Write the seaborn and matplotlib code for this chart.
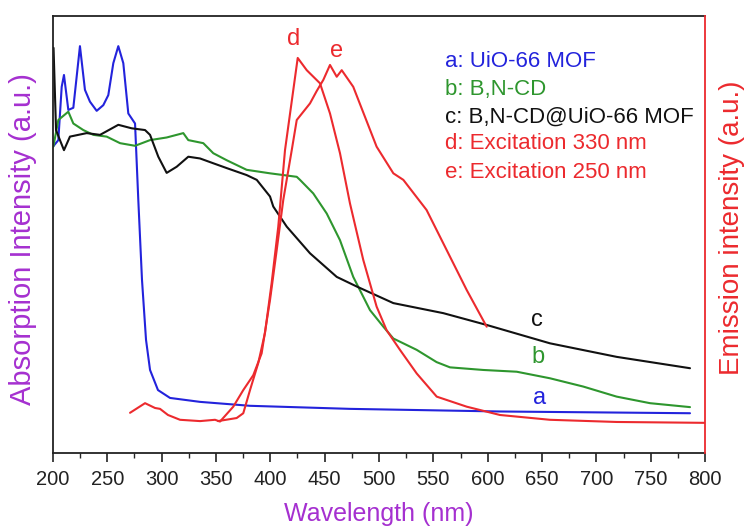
import numpy as np
import pandas as pd
import matplotlib
matplotlib.use("Agg")
import matplotlib.pyplot as plt
import seaborn as sns
from matplotlib.ticker import MultipleLocator, NullLocator

# ---------------- data ----------------
a_nm = [200, 204.9, 208, 210.1, 214.1, 218.7, 224.8, 229.4, 234.0, 240.2, 246.3, 250.9,
        255.5, 260.1, 264.7, 269.3, 275.5, 278.5, 281.9, 285.6, 289.3, 296.6, 307.7,
        335.3, 381.3, 473.3, 611.3, 786.2]
a_val = [70.1, 71.6, 83.8, 86.5, 78.5, 79.0, 93.1, 83.1, 80.4, 78.3, 79.6, 81.9,
         89.2, 93.1, 89.2, 77.7, 75.4, 57.9, 39.6, 25.9, 19.0, 14.4, 12.6,
         11.7, 10.8, 10.1, 9.5, 9.1]

b_nm = [200.3, 204.9, 214.1, 218.7, 227.9, 237.1, 249.4, 261.7, 275.5, 289.3, 304.6,
        319.9, 324.5, 338.3, 347.5, 359.8, 378.2, 399.7, 424.3, 427.3, 439.5, 451.9,
        464.1, 476.3, 491.7, 504.0, 513.2, 534.7, 553.0, 565.3, 596.0, 626.7, 657.3, 688.0,
        718.7, 749.4, 786.2]
b_val = [70.1, 76.2, 78.1, 75.4, 73.9, 72.8, 72.4, 70.9, 70.3, 71.6, 72.2,
         73.2, 71.6, 70.9, 68.6, 67.0, 64.8, 64.0, 63.2, 62.5, 59.4, 54.8,
         48.7, 40.3, 32.7, 28.9, 26.2, 23.6, 20.8, 19.6, 19.0, 18.6, 17.1, 15.2,
         12.9, 11.4, 10.5]

c_nm = [200.5, 202.8, 206.4, 210.1, 215.6, 231.0, 243.3, 260.1, 272.4, 284.7, 289.3,
        296.9, 304.6, 313.8, 324.5, 335.3, 347.5, 359.8, 378.2, 387.5, 399.7, 402.7,
        415.1, 436.5, 461.1, 479.5, 513.2, 559.2, 599.1, 657.3, 718.7, 786.2]
c_val = [92.7, 73.9, 71.6, 69.3, 72.4, 73.2, 72.8, 75.1, 74.3, 73.9, 72.8,
         67.8, 64.1, 65.5, 67.8, 67.4, 66.3, 65.2, 63.6, 62.5, 58.7, 56.4,
         51.8, 45.7, 40.3, 38.1, 34.3, 32.0, 29.3, 25.1, 22.0, 19.4]

d_nm = [351.8, 369.0, 375.1, 381.3, 388.9, 395.1, 401.2, 407.3, 413.5, 425.2, 433.5,
        445.7, 454.9, 464.1, 473.3, 485.5, 497.8, 507.0, 519.3, 534.7, 553.1, 580.7,
        611.3, 657.3, 718.7, 800.0]
d_val = [7.3, 8.0, 9.1, 14.4, 20.6, 27.5, 38.9, 51.8, 69.3, 90.4, 87.6,
         84.6, 77.7, 68.6, 57.1, 44.2, 33.5, 28.1, 23.6, 18.2, 12.9, 10.6,
         8.7, 7.6, 7.1, 6.9]

e_nm = [270.9, 284.7, 293.9, 298.5, 305.8, 316.9, 335.3, 349.1, 353.7, 365.9, 375.1,
        384.3, 392.0, 399.7, 405.9, 411.9, 419.7, 424.3, 436.5, 442.6, 448.8, 454.9,
        461.1, 465.7, 476.3, 497.8, 513.2, 522.4, 543.8, 556.1, 568.4, 580.7, 599.1]
e_val = [9.2, 11.4, 10.3, 10.1, 8.7, 7.6, 7.3, 7.6, 7.2, 10.6, 14.4,
         17.8, 22.8, 35.0, 46.5, 57.9, 69.3, 76.2, 80.0, 82.8, 85.4, 88.8,
         86.1, 87.6, 83.8, 70.1, 64.0, 62.5, 55.6, 49.5, 43.4, 37.3, 28.9]

legend_lines = ["a: UiO-66 MOF", "b: B,N-CD", "c: B,N-CD@UiO-66 MOF",
                "d: Excitation 330 nm", "e: Excitation 250 nm"]
x_ticks = list(range(200, 801, 50))

BLUE = "#2323dc"
GREEN = "#2e962e"
BLACK = "#111111"
RED = "#ec2a2e"
PURPLE = "#a530d0"

# ---------------- style ----------------
sns.set_style("white")
plt.rcParams["font.family"] = ["Liberation Sans", "DejaVu Sans"]

fig = plt.figure(figsize=(7.49, 5.29), dpi=100)
ax = fig.add_axes([53/749, 1 - 453/529, (705-53)/749, (453-16)/529])
ax2 = ax.twinx()

lw = 1.5
def draw(axis, xs, ys, color):
    df = pd.DataFrame({"x": xs, "y": ys})
    sns.lineplot(data=df, x="x", y="y", ax=axis, color=color, lw=lw,
                 sort=False, estimator=None, legend=False)

draw(ax, a_nm, a_val, BLUE)
draw(ax, b_nm, b_val, GREEN)
draw(ax, c_nm, c_val, BLACK)
draw(ax2, d_nm, d_val, RED)
draw(ax2, e_nm, e_val, RED)

for axis in (ax, ax2):
    axis.set_xlim(200, 800)
    axis.set_ylim(0, 100)
    axis.yaxis.set_major_locator(NullLocator())
    axis.set_xlabel("")

ax.set_xticks(x_ticks)
ax.xaxis.set_minor_locator(MultipleLocator(25))
ax.tick_params(axis="x", which="major", direction="out", length=6.5, width=1.2,
               labelsize=14.5, colors="#222222", pad=6, bottom=True)
ax.tick_params(axis="x", which="minor", direction="out", length=3.5, width=1.0,
               bottom=True)

for s in ("left", "top", "bottom"):
    ax.spines[s].set_color("#222222")
    ax.spines[s].set_linewidth(1.3)
ax.spines["right"].set_visible(False)
for s in ("left", "top", "bottom"):
    ax2.spines[s].set_visible(False)
ax2.spines["right"].set_color(RED)
ax2.spines["right"].set_linewidth(1.3)

ax.set_xlabel("Wavelength (nm)", fontsize=18, color=PURPLE)
ax.xaxis.set_label_coords(0.5, -0.112)
ax.set_ylabel("Absorption Intensity (a.u.)", fontsize=21, color=PURPLE)
ax.yaxis.set_label_coords(-0.025, 0.49)
ax2.set_ylabel("Emission intensity (a.u.)", fontsize=20, color=RED)
ax2.yaxis.set_label_coords(1.022, 0.515)

# curve labels
ax.text(648, 12.5, "a", color=BLUE, fontsize=17, ha="center", va="center")
ax.text(646.5, 21.9, "b", color=GREEN, fontsize=17, ha="center", va="center")
ax.text(645, 30.4, "c", color=BLACK, fontsize=17, ha="center", va="center")
ax.text(421, 94.7, "d", color=RED, fontsize=17, ha="center", va="center")
ax.text(460.5, 92.1, "e", color=RED, fontsize=17, ha="center", va="center")

# legend-like text block
colors = [BLUE, GREEN, BLACK, RED, RED]
ys = [0.895, 0.831, 0.769, 0.709, 0.643]
for t, c, yy in zip(legend_lines, colors, ys):
    ax.text(0.601, yy, t, color=c, fontsize=16, ha="left", va="center",
            transform=ax.transAxes)

fig.savefig("out.png", dpi=100)
